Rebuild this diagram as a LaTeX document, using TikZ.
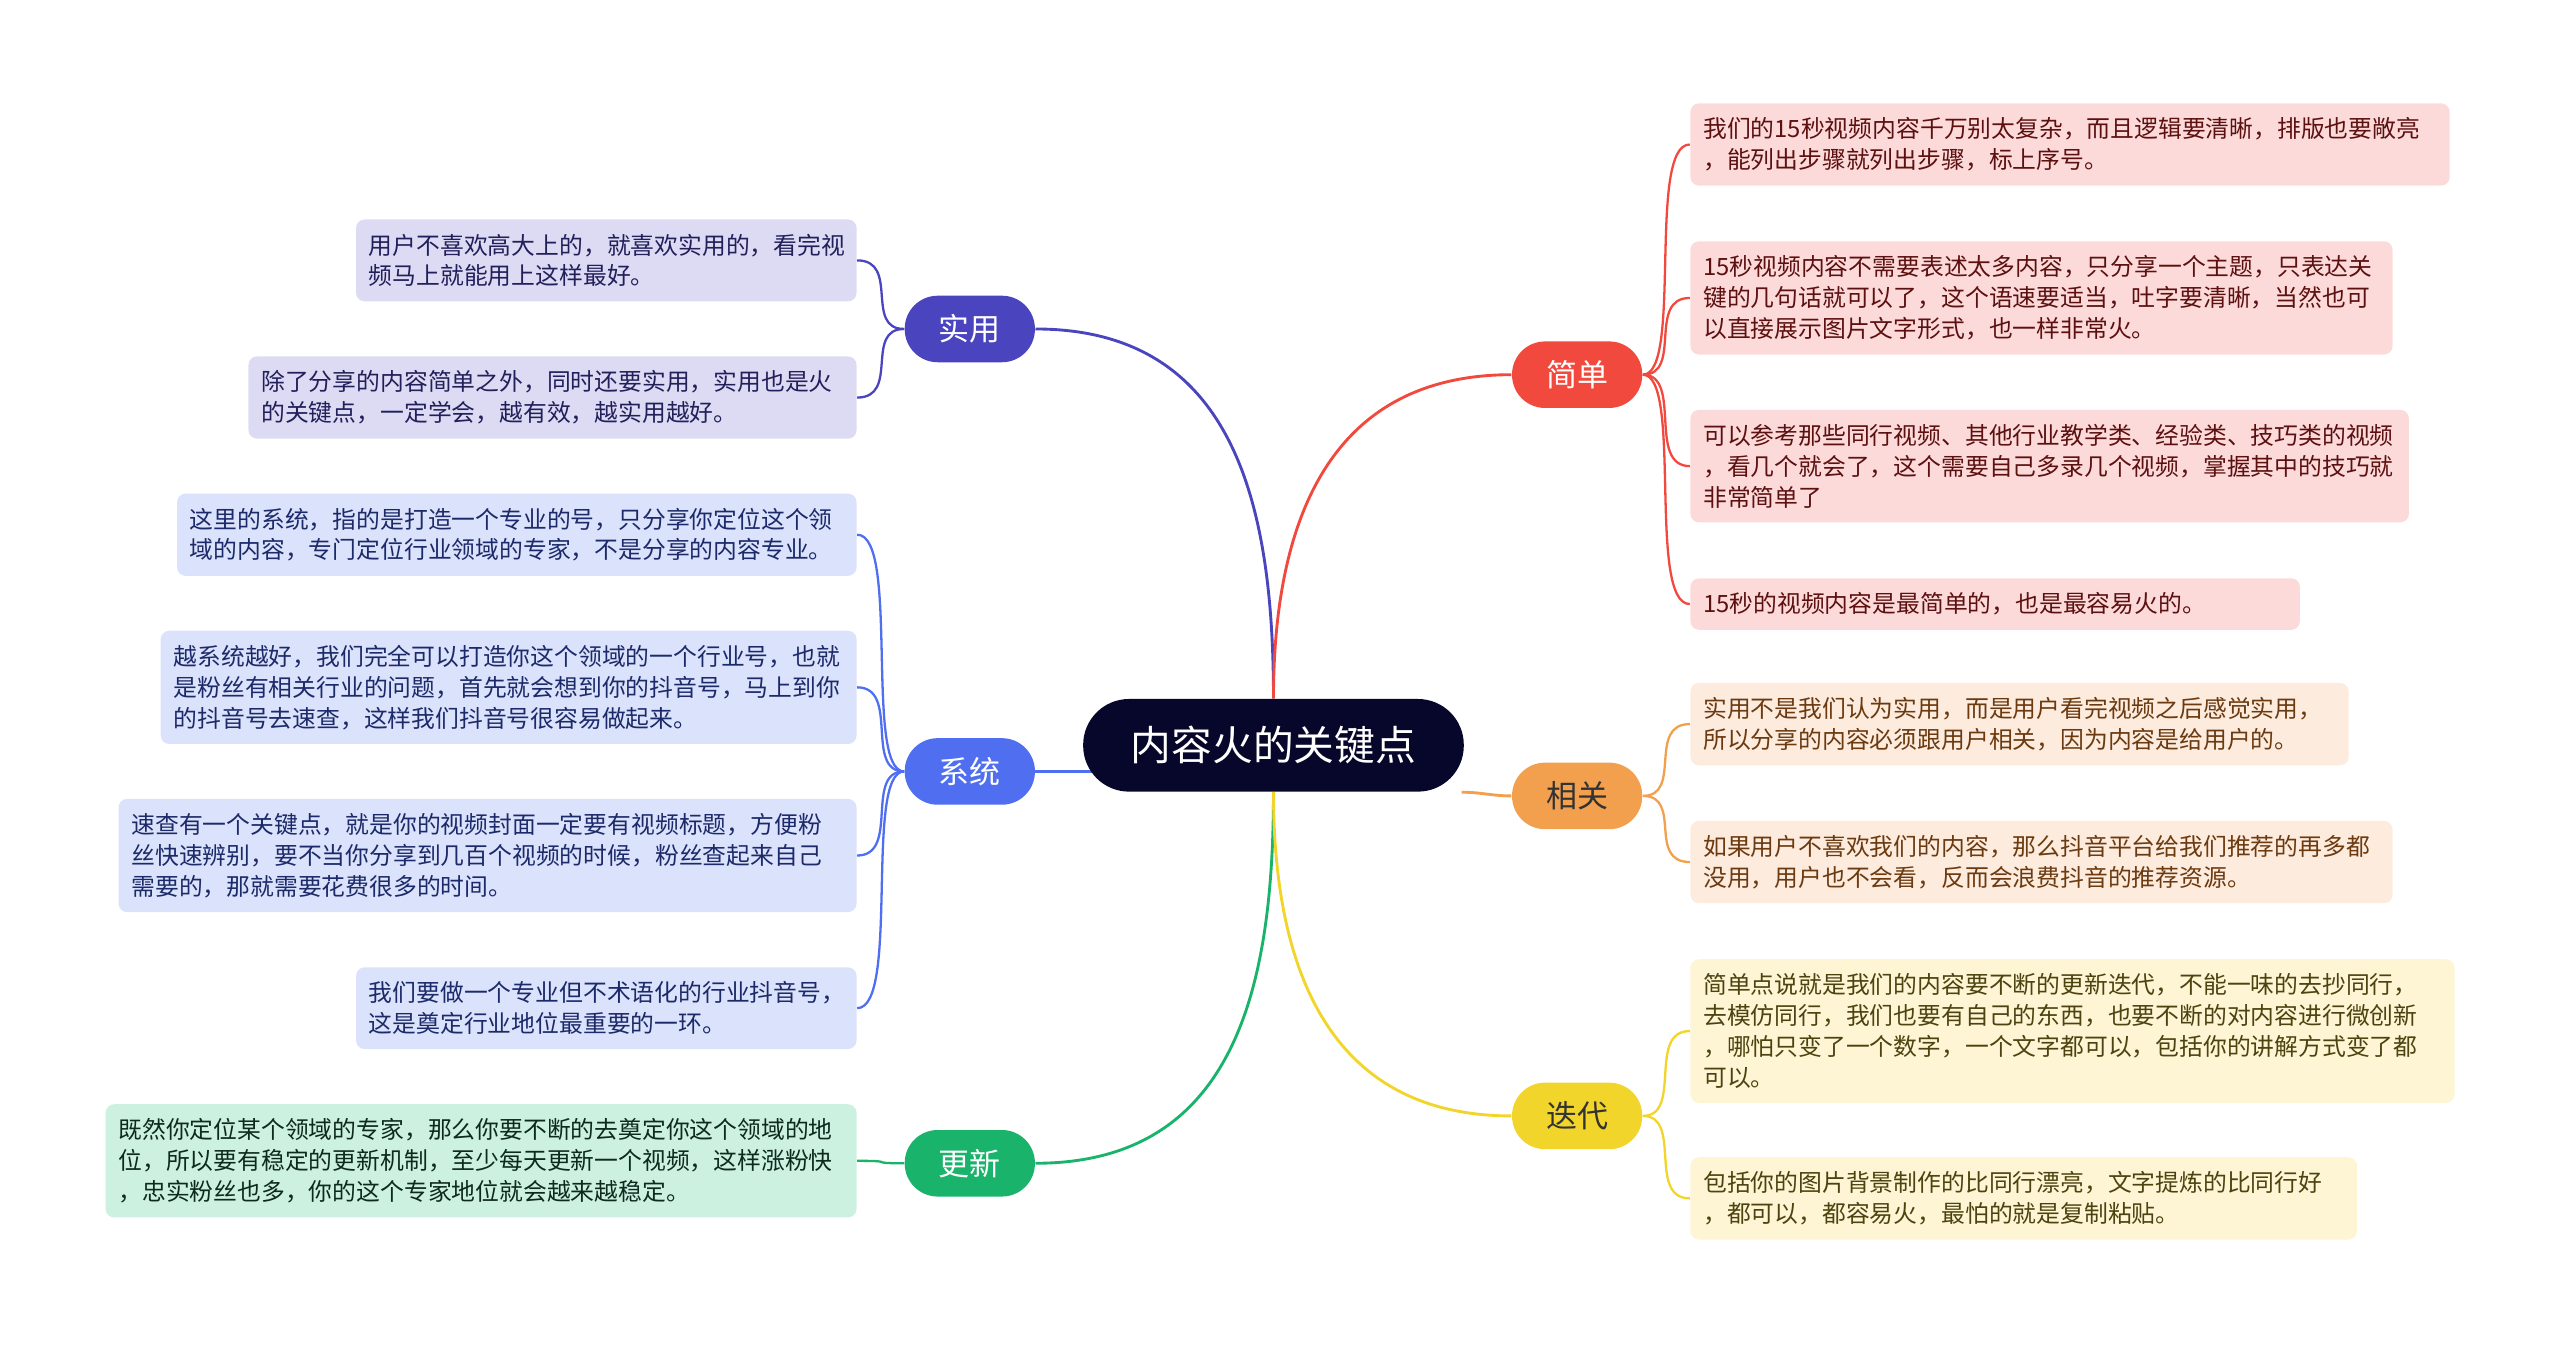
\documentclass[tikz,border=0pt]{standalone}
\usepackage{fontspec}
\setmainfont{Noto Sans CJK SC}
\usepackage{tikz}
\usetikzlibrary{backgrounds}

\definecolor{rootbg}{HTML}{07072B}
\definecolor{syC}{HTML}{4A45BF}
\definecolor{syL}{HTML}{DCDBF3}
\definecolor{syT}{HTML}{22205A}
\definecolor{xtC}{HTML}{4F6FF0}
\definecolor{xtL}{HTML}{DBE2FB}
\definecolor{xtT}{HTML}{1C2A6A}
\definecolor{gxC}{HTML}{1AB36C}
\definecolor{gxL}{HTML}{CDF1E1}
\definecolor{gxT}{HTML}{0D2A1D}
\definecolor{jdC}{HTML}{F2493E}
\definecolor{jdL}{HTML}{FDDADA}
\definecolor{jdT}{HTML}{5C1010}
\definecolor{xgC}{HTML}{F2A04E}
\definecolor{xgL}{HTML}{FDEBDD}
\definecolor{xgT}{HTML}{6B3A10}
\definecolor{ddC}{HTML}{F2D52A}
\definecolor{ddL}{HTML}{FDF5D3}
\definecolor{ddT}{HTML}{4D4310}

\begin{document}
\begin{tikzpicture}[x=0.02cm,y=0.02cm,
  leaf/.style={rounded corners=3pt,align=left,inner xsep=4.5pt,inner ysep=5pt,
    font=\fontsize{8.3pt}{10.77pt}\selectfont},
  topic/.style={rounded corners=11.5pt,minimum width=45.4pt,minimum height=23.2pt,
    inner sep=0pt,font=\fontsize{10.8pt}{13pt}\selectfont},
  twigr/.style={out=0,in=180,out distance=14,in distance=15,line width=.8pt},
  twigl/.style={out=180,in=0,out distance=14,in distance=15,line width=.8pt},
  limb/.style={line width=1pt}]
  \useasboundingbox (0,0) rectangle (1568,-824);

  \node[fill=rootbg,text=white,rounded corners=16pt,minimum width=132.7pt,minimum height=32.3pt,
    font=\fontsize{14.2pt}{17pt}\selectfont] (root) at (780,-456.5) {内容火的关键点};

  \node[topic,fill=syC,text=white] (shiyong) at (594,-201.5) {实用};
  \node[topic,fill=xtC,text=white] (xitong) at (594,-472.5) {系统};
  \node[topic,fill=gxC,text=white] (gengxin) at (594,-712.5) {更新};
  \node[topic,fill=jdC,text=white] (jiandan) at (966,-229.5) {简单};
  \node[topic,fill=xgC,text=black!80] (xiangguan) at (966,-487.5) {相关};
  \node[topic,fill=ddC,text=black!80] (diedai) at (966,-683.5) {迭代};

  % left side
  \node[leaf,fill=syL,text=syT,anchor=east,text width=165.5pt] (sy1) at (525,-159.5)
    {用户不喜欢高大上的，就喜欢实用的，看完视\\频马上就能用上这样最好。};
  \node[leaf,fill=syL,text=syT,anchor=east,text width=203pt] (sy2) at (525,-243.5)
    {除了分享的内容简单之外，同时还要实用，实用也是火\\的关键点，一定学会，越有效，越实用越好。};
  \node[leaf,fill=xtL,text=xtT,anchor=east,text width=227.9pt] (xt1) at (525,-327.5)
    {这里的系统，指的是打造一个专业的号，只分享你定位这个领\\域的内容，专门定位行业领域的专家，不是分享的内容专业。};
  \node[leaf,fill=xtL,text=xtT,anchor=east,text width=233.6pt] (xt2) at (525,-421)
    {越系统越好，我们完全可以打造你这个领域的一个行业号，也就\\是粉丝有相关行业的问题，首先就会想到你的抖音号，马上到你\\的抖音号去速查，这样我们抖音号很容易做起来。};
  \node[leaf,fill=xtL,text=xtT,anchor=east,text width=248.3pt] (xt3) at (525,-524)
    {速查有一个关键点，就是你的视频封面一定要有视频标题，方便粉\\丝快速辨别，要不当你分享到几百个视频的时候，粉丝查起来自己\\需要的，那就需要花费很多的时间。};
  \node[leaf,fill=xtL,text=xtT,anchor=east,text width=165.5pt] (xt4) at (525,-617.5)
    {我们要做一个专业但不术语化的行业抖音号，\\这是奠定行业地位最重要的一环。};
  \node[leaf,fill=gxL,text=gxT,anchor=east,text width=252.8pt] (gx1) at (525,-711)
    {既然你定位某个领域的专家，那么你要不断的去奠定你这个领域的地\\位，所以要有稳定的更新机制，至少每天更新一个视频，这样涨粉快\\，忠实粉丝也多，你的这个专家地位就会越来越稳定。};

  % right side
  \node[leaf,fill=jdL,text=jdT,anchor=west,text width=255.7pt] (jd1) at (1035,-88.5)
    {我们的15秒视频内容千万别太复杂，而且逻辑要清晰，排版也要敞亮\\，能列出步骤就列出步骤，标上序号。};
  \node[leaf,fill=jdL,text=jdT,anchor=west,text width=235.8pt] (jd2) at (1035,-182.5)
    {15秒视频内容不需要表述太多内容，只分享一个主题，只表达关\\键的几句话就可以了，这个语速要适当，吐字要清晰，当然也可\\以直接展示图片文字形式，也一样非常火。};
  \node[leaf,fill=jdL,text=jdT,anchor=west,text width=241.5pt] (jd3) at (1035,-285.5)
    {可以参考那些同行视频、其他行业教学类、经验类、技巧类的视频\\，看几个就会了，这个需要自己多录几个视频，掌握其中的技巧就\\非常简单了};
  \node[leaf,fill=jdL,text=jdT,anchor=west,text width=203.5pt] (jd4) at (1035,-370)
    {15秒的视频内容是最简单的，也是最容易火的。};
  \node[leaf,fill=xgL,text=xgT,anchor=west,text width=220.5pt] (xg1) at (1035,-443.5)
    {实用不是我们认为实用，而是用户看完视频之后感觉实用，\\所以分享的内容必须跟用户相关，因为内容是给用户的。};
  \node[leaf,fill=xgL,text=xgT,anchor=west,text width=235.8pt] (xg2) at (1035,-528)
    {如果用户不喜欢我们的内容，那么抖音平台给我们推荐的再多都\\没用，用户也不会看，反而会浪费抖音的推荐资源。};
  \node[leaf,fill=ddL,text=ddT,anchor=west,text width=257.4pt] (dd1) at (1035,-631.5)
    {简单点说就是我们的内容要不断的更新迭代，不能一味的去抄同行，\\去模仿同行，我们也要有自己的东西，也要不断的对内容进行微创新\\，哪怕只变了一个数字，一个文字都可以，包括你的讲解方式变了都\\可以。};
  \node[leaf,fill=ddL,text=ddT,anchor=west,text width=223.4pt] (dd2) at (1035,-734)
    {包括你的图片背景制作的比同行漂亮，文字提炼的比同行好\\，都可以，都容易火，最怕的就是复制粘贴。};

  \begin{scope}[on background layer]
    \draw[limb,syC] (root.north) to[out=90,in=0,looseness=1.15] (shiyong.east);
    \draw[limb,jdC] (root.north) to[out=90,in=180,looseness=1.15] (jiandan.west);
    \draw[limb,xtC] (xitong.east) -- (xitong.east -| root.center);
    \draw[limb,xgC] (root.-14) to[out=0,in=180] (xiangguan.west);
    \draw[limb,gxC] (root.south) to[out=-90,in=0,looseness=1.15] (gengxin.east);
    \draw[limb,ddC] (root.south) to[out=-90,in=180,looseness=1.15] (diedai.west);

    \foreach \l in {sy1,sy2} \draw[twigl,syC] (shiyong.west) to (\l.east);
    \foreach \l in {xt1,xt2,xt3,xt4} \draw[twigl,xtC] (xitong.west) to (\l.east);
    \draw[twigl,gxC] (gengxin.west) to (gx1.east);
    \foreach \l in {jd1,jd2,jd3,jd4} \draw[twigr,jdC] (jiandan.east) to (\l.west);
    \foreach \l in {xg1,xg2} \draw[twigr,xgC] (xiangguan.east) to (\l.west);
    \foreach \l in {dd1,dd2} \draw[twigr,ddC] (diedai.east) to (\l.west);
  \end{scope}
\end{tikzpicture}
\end{document}
